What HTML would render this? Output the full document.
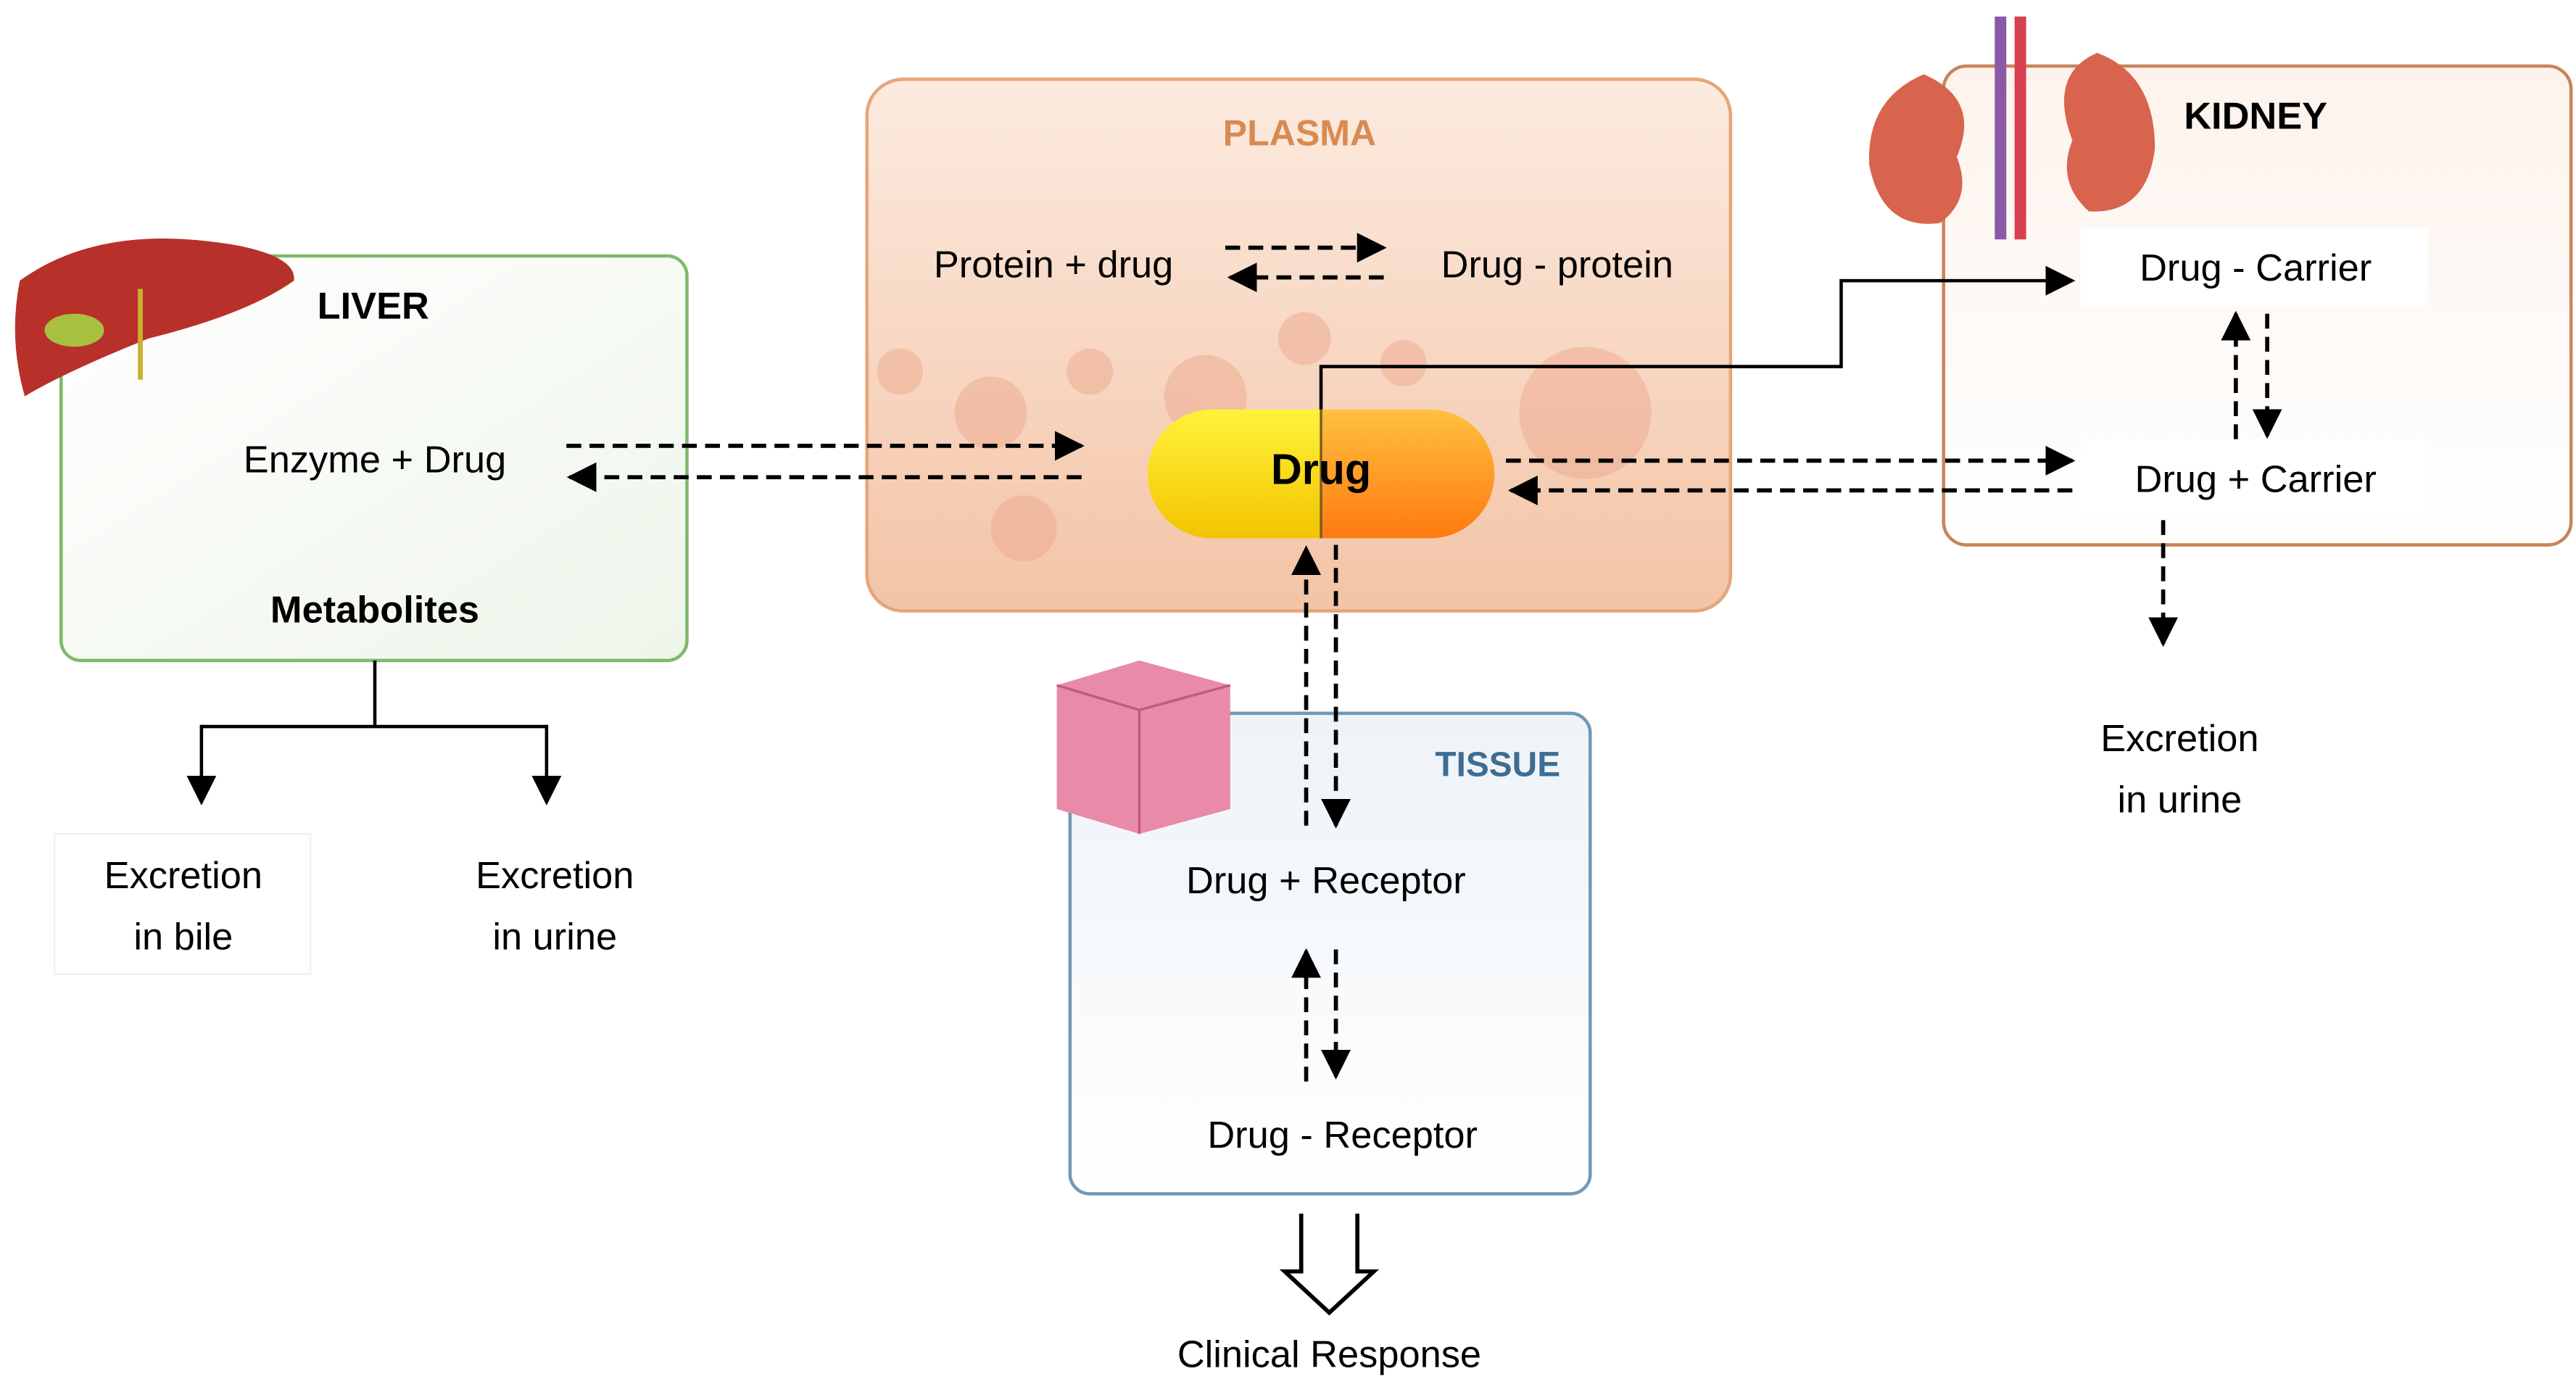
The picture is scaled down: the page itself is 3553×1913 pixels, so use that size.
<!DOCTYPE html>
<html><head><meta charset="utf-8"><style>html,body{margin:0;padding:0;background:#fff}svg{display:block}</style></head><body>
<svg width="3553" height="1913" viewBox="0 0 1560 840" preserveAspectRatio="none" xmlns="http://www.w3.org/2000/svg" font-family="Liberation Sans, sans-serif">
<defs>
<linearGradient id="pl" x1="0" y1="0" x2="0" y2="1"><stop offset="0" stop-color="#fcebe0"/><stop offset="1" stop-color="#f3c4a6"/></linearGradient>
<linearGradient id="lv" x1="0" y1="0" x2="1" y2="1"><stop offset="0" stop-color="#ffffff"/><stop offset="1" stop-color="#eef5ea"/></linearGradient>
<linearGradient id="ts" x1="0" y1="0" x2="0" y2="1"><stop offset="0" stop-color="#eef3f8"/><stop offset="1" stop-color="#ffffff"/></linearGradient>
<linearGradient id="ky" x1="0" y1="0" x2="0" y2="1"><stop offset="0" stop-color="#fdf3ec"/><stop offset="1" stop-color="#ffffff"/></linearGradient>
<linearGradient id="yl" x1="0" y1="0" x2="0" y2="1"><stop offset="0" stop-color="#fff23a"/><stop offset="1" stop-color="#f2c400"/></linearGradient>
<linearGradient id="or" x1="0" y1="0" x2="0" y2="1"><stop offset="0" stop-color="#ffc040"/><stop offset="1" stop-color="#ff7a10"/></linearGradient>
<marker id="b" viewBox="0 0 10 10" refX="9" refY="5" markerWidth="18" markerHeight="18" orient="auto" markerUnits="userSpaceOnUse"><path d="M0,0L10,5L0,10z" fill="#000"/></marker>
</defs>
<!-- Boxes -->
<rect x="37" y="155" width="379" height="245" rx="12" fill="url(#lv)" stroke="#7fb86a" stroke-width="2"/>
<rect x="525" y="48" width="523" height="322" rx="22" fill="url(#pl)" stroke="#e6a57a" stroke-width="2"/>
<g fill="#eba58a" opacity="0.45"><circle cx="600" cy="250" r="22"/><circle cx="660" cy="225" r="14"/><circle cx="730" cy="240" r="25"/><circle cx="790" cy="205" r="16"/><circle cx="850" cy="220" r="14"/><circle cx="960" cy="250" r="40"/><circle cx="545" cy="225" r="14"/><circle cx="620" cy="320" r="20"/></g>
<rect x="1177" y="40" width="380" height="290" rx="14" fill="url(#ky)" stroke="#c9845a" stroke-width="2"/>
<rect x="648" y="432" width="315" height="291" rx="12" fill="url(#ts)" stroke="#7099b8" stroke-width="2"/>
<rect x="1260" y="138" width="210" height="47" fill="#fff"/>
<rect x="1260" y="266" width="212" height="48" fill="#fff"/>
<rect x="33" y="505" width="155" height="85" fill="#fff" stroke="#f0f0f0"/>
<!-- Liver icon -->
<path d="M12,170 Q60,135 140,148 Q180,155 178,170 Q150,190 90,205 Q40,225 15,240 Q5,205 12,170z" fill="#b8302a"/>
<ellipse cx="45" cy="200" rx="18" ry="10" fill="#a8c040"/>
<line x1="85" y1="175" x2="85" y2="230" stroke="#c8b030" stroke-width="3"/>
<!-- Kidney icon -->
<path d="M1165,45 Q1130,60 1132,100 Q1140,140 1175,135 Q1195,120 1185,95 Q1200,60 1165,45z" fill="#d8644e"/>
<path d="M1270,32 Q1305,45 1305,90 Q1300,130 1265,128 Q1245,110 1255,85 Q1240,45 1270,32z" fill="#d8644e"/>
<rect x="1208" y="10" width="7" height="135" fill="#8a5aa8"/><rect x="1220" y="10" width="7" height="135" fill="#d84050"/>
<!-- Tissue icon -->
<path d="M640,415 L690,400 L745,415 L745,490 L690,505 L640,490z" fill="#e98aa8"/>
<path d="M640,415 L690,430 L745,415 M690,430 V505" stroke="#c05a80" fill="none" stroke-width="1.5"/>
<!-- Text -->
<text x="226" y="193" font-size="23" font-weight="bold" text-anchor="middle">LIVER</text>
<text x="227" y="286" font-size="23" text-anchor="middle">Enzyme + Drug</text>
<text x="227" y="377" font-size="23" font-weight="bold" text-anchor="middle">Metabolites</text>
<text x="111" y="538" font-size="23" text-anchor="middle">Excretion</text>
<text x="111" y="575" font-size="23" text-anchor="middle">in bile</text>
<text x="336" y="538" font-size="23" text-anchor="middle">Excretion</text>
<text x="336" y="575" font-size="23" text-anchor="middle">in urine</text>
<text x="787" y="88" font-size="22" font-weight="bold" fill="#d98a52" text-anchor="middle">PLASMA</text>
<text x="638" y="168" font-size="23" text-anchor="middle">Protein + drug</text>
<text x="943" y="168" font-size="23" text-anchor="middle">Drug - protein</text>
<text x="1366" y="78" font-size="23" font-weight="bold" text-anchor="middle">KIDNEY</text>
<text x="1366" y="170" font-size="23" text-anchor="middle">Drug - Carrier</text>
<text x="1366" y="298" font-size="23" text-anchor="middle">Drug + Carrier</text>
<text x="1320" y="455" font-size="23" text-anchor="middle">Excretion</text>
<text x="1320" y="492" font-size="23" text-anchor="middle">in urine</text>
<text x="907" y="470" font-size="21" font-weight="bold" fill="#3d6d92" text-anchor="middle">TISSUE</text>
<text x="803" y="541" font-size="23" text-anchor="middle">Drug + Receptor</text>
<text x="813" y="695" font-size="23" text-anchor="middle">Drug - Receptor</text>
<text x="805" y="828" font-size="23" text-anchor="middle">Clinical Response</text>
<!-- Connectors -->
<path d="M227,400V440M122,440H331" stroke="#000" stroke-width="2" fill="none"/>
<line x1="122" y1="439" x2="122" y2="486" stroke="#000" stroke-width="2" marker-end="url(#b)"/>
<line x1="331" y1="439" x2="331" y2="486" stroke="#000" stroke-width="2" marker-end="url(#b)"/>
<g stroke="#000" stroke-width="2.5" stroke-dasharray="9,5" fill="none">
<line x1="742" y1="150" x2="838" y2="150" marker-end="url(#b)"/>
<line x1="838" y1="168" x2="745" y2="168" marker-end="url(#b)"/>
<line x1="343" y1="270" x2="655" y2="270" marker-end="url(#b)"/>
<line x1="655" y1="289" x2="345" y2="289" marker-end="url(#b)"/>
<line x1="912" y1="279" x2="1255" y2="279" marker-end="url(#b)"/>
<line x1="1255" y1="297" x2="915" y2="297" marker-end="url(#b)"/>
<line x1="791" y1="500" x2="791" y2="332" marker-end="url(#b)"/>
<line x1="809" y1="330" x2="809" y2="500" marker-end="url(#b)"/>
<line x1="791" y1="655" x2="791" y2="576" marker-end="url(#b)"/>
<line x1="809" y1="575" x2="809" y2="652" marker-end="url(#b)"/>
<line x1="1354" y1="266" x2="1354" y2="190" marker-end="url(#b)"/>
<line x1="1373" y1="190" x2="1373" y2="264" marker-end="url(#b)"/>
<line x1="1310" y1="315" x2="1310" y2="390" marker-end="url(#b)"/>
</g>
<!-- pill -->
<path d="M734,248H800V326H734A39,39 0 0 1 734,248z" fill="url(#yl)"/>
<path d="M800,248H866A39,39 0 0 1 866,326H800z" fill="url(#or)"/>
<line x1="800" y1="248" x2="800" y2="326" stroke="#7a5a20" stroke-width="1.5"/>
<text x="800" y="293" font-size="26" font-weight="bold" text-anchor="middle">Drug</text>
<path d="M800,248V222H1115V170H1255" stroke="#000" stroke-width="2" fill="none" marker-end="url(#b)"/>
<path d="M788,735V770H778L805,795L832,770H822V735" fill="#fff" stroke="#000" stroke-width="2.5"/>
</svg>
</body></html>
